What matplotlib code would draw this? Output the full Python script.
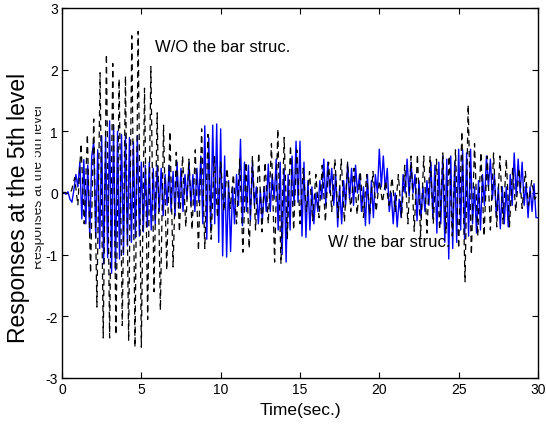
import numpy as np
import matplotlib
matplotlib.use("Agg")
import matplotlib.pyplot as plt
from matplotlib.patches import Rectangle

plt.rcParams['font.family'] = ['Liberation Sans', 'DejaVu Sans']
plt.rcParams['axes.unicode_minus'] = False

# ---- data ----
# W/O the bar structure (black dashed), extrema every 0.2 s
dt_wo = 0.2
resp_wo = [
    0, 0.01, -0.02, 0.04, 0.25,
    -0.2, 0.8, -0.5, 0.95, -1.3,
    1.2, -1.85, 1.95, -2.35, 2.25,
    -2.35, 2.1, -2.3, 1.85, -2.15,
    1.9, -2.4, 2.55, -2.5, 2.62,
    -2.5, 1.7, -2.05, 2.05, -1.6,
    1.3, -1.9, 1.1, -1.25, 1.0,
    -1.2, 0.66, -0.63, 0.6, -0.55,
    0.55, -0.6, 0.7, -0.94, 1.04,
    -0.9, 0.95, -0.75, 0.6, -0.4,
    0.5, -0.3, 0.4, -0.25, 0.3,
    -0.5, 0.55, -0.96, 0.5, -0.9,
    0.6, -0.6, 0.65, -0.63, 0.5,
    -0.5, 0.8, -1.12, 1.04, -1.15,
    0.9, -0.74, 0.77, -0.6, 0.7,
    -0.5, 0.4, -0.3, 0.35, -0.45,
    0.3, -0.4, 0.45, -0.47, 0.5,
    -0.3, 0.55, -0.4, 0.55, -0.47,
    0.5, -0.3, 0.4, -0.35, 0.35,
    -0.4, 0.3, -0.35, 0.35, -0.3,
    0.2, -0.15, 0.2, -0.2, 0.25,
    -0.3, 0.3, -0.4, 0.45, -0.5,
    0.6, -0.62, 0.63, -0.7, 0.6,
    -0.65, 0.6, -0.5, 0.55, -0.6,
    0.65, -0.65, 0.6, -0.7, 0.7,
    -0.9, 1.0, -1.44, 1.43, -1.0,
    0.8, -0.7, 0.66, -0.7, 0.6,
    -0.6, 0.65, -0.55, 0.6, -0.5,
    0.55, -0.55, 0.4, -0.3, 0.4,
    -0.25, 0.35, -0.2, 0.2, -0.1,
    0.0,
]

# W/ the bar structure (blue solid), extrema every 0.125 s
dt_w = 0.125
resp_w = [
    0, 0.01, -0.02, 0.02, -0.1, -0.15, 0.05, 0.3,
    0.1, 0.5, -0.42, 0.54, -0.5, 0.45, -0.71, 0.6,
    0.83, -0.73, 0.7, -0.9, 0.93, -1.15, 0.9, -1.05,
    1.17, -1.3, 1.1, -1.25, 1.0, -1.07, 0.95, -1.0,
    0.93, -0.86, 0.9, -0.8, 0.83, -0.73, 0.93, -0.7,
    0.5, -0.63, 0.45, -0.55, 0.5, -0.6, 0.4, -0.5,
    0.45, -0.3, 0.4, -0.37, 0.3, -0.2, 0.45, -0.3,
    0.35, -0.37, 0.5, -0.25, 0.4, -0.3, 0.3, -0.1,
    0.5, -0.2, 0.3, -0.3, 0.4, -0.15, 0.6, -0.5,
    1.09, -0.75, 0.9, -0.6, 1.1, -0.5, 1.12, -0.8,
    1.04, -1.02, 0.6, -1.04, 0.2, -0.95, 0.1, -0.5,
    0.3, -0.2, 0.87, -0.53, 0.5, -0.3, 0.45, -0.45,
    0.5, -0.2, 0.1, -0.5, 0.05, -0.45, 0.1, -0.3,
    0.47, -0.3, 0.3, -0.1, 0.55, -0.6, 0.5, -1.0,
    0.4, -1.12, 0.3, -0.6, 0.6, -0.2, 0.84, -0.15,
    0.84, -0.7, 0.5, -0.72, 0.2, -0.6, 0.1, -0.5,
    0.0, -0.3, 0.2, -0.1, 0.55, -0.2, 0.5, 0.0,
    0.4, -0.2, 0.3, -0.55, 0.1, -0.5, 0.2, -0.2,
    0.47, -0.1, 0.4, -0.2, 0.45, 0.0, 0.3, -0.3,
    0.1, -0.53, 0.3, -0.5, 0.2, -0.4, 0.3, 0.0,
    0.71, 0.1, 0.6, 0.05, 0.4, -0.3, 0.0, -0.5,
    0.0, -0.55, -0.1, -0.4, 0.3, 0.0, 0.55, -0.05,
    0.5, 0.0, 0.3, -0.45, 0.2, -0.4, 0.1, -0.3,
    0.2, -0.2, 0.5, -0.4, 0.45, -0.65, 0.5, -0.5,
    0.6, -0.8, 0.55, -1.07, 0.6, -0.9, 0.5, -0.8,
    0.71, -0.6, 0.7, -0.75, 0.65, -0.7, 0.71, -0.5,
    0.1, -0.65, 0.2, -0.6, 0.3, -0.2, 0.6, 0.1,
    0.55, -0.1, 0.3, -0.4, 0.1, -0.58, 0.1, -0.5,
    0.1, -0.55, 0.3, -0.2, 0.65, -0.05, 0.55, 0.0,
    0.5, -0.2, 0.15, -0.4, 0.1, -0.3, 0.15, -0.4,
    -0.4,
]

x_ticks = [0, 5, 10, 15, 20, 25, 30]
y_ticks = [-3, -2, -1, 0, 1, 2, 3]
label_wo = "W/O the bar struc."
label_w = "W/ the bar struc."
y_label = "Responses at the 5th level"
x_label = "Time(sec.)"

t_wo = np.arange(len(resp_wo)) * dt_wo
t_w = np.arange(len(resp_w)) * dt_w

fig = plt.figure(figsize=(5.46, 4.27), dpi=100)
ax = fig.add_axes([62/546, 48/427, 476/546, 370/427])

ax.plot(t_w, resp_w, color='#0000ff', lw=1.0, zorder=2)
ax.plot(t_wo, resp_wo, color='black', lw=0.9, dashes=(5, 3.5), zorder=3)

ax.set_xlim(0, 30)
ax.set_ylim(-3, 3)
ax.set_xticks(x_ticks)
ax.set_yticks(y_ticks)
ax.tick_params(direction='in', top=True, right=True, length=4, width=0.8,
               labelsize=10, pad=3)
for s in ax.spines.values():
    s.set_linewidth(1.0)

ax.text(5.84, 2.37, label_wo, fontsize=12, va='center', ha='left')
ax.text(16.76, -0.79, label_w, fontsize=12, va='center', ha='left')

ax.set_xlabel(x_label, fontsize=12.5, labelpad=4)

# main y label
fig.text(19/546, 1 - 208/427, y_label, rotation=90, fontsize=16.5,
         ha='center', va='center')
# faint, partly hidden duplicate label
ghost = fig.text(38/546, 1 - 187/427, y_label, rotation=90, fontsize=10,
                 ha='center', va='center', color='#222222')
clip = Rectangle((35/546, 0), 20/546, 1, transform=fig.transFigure,
                 facecolor='none', edgecolor='none')
fig.add_artist(clip)
ghost.set_clip_path(clip)

fig.savefig("out.png", dpi=100)
